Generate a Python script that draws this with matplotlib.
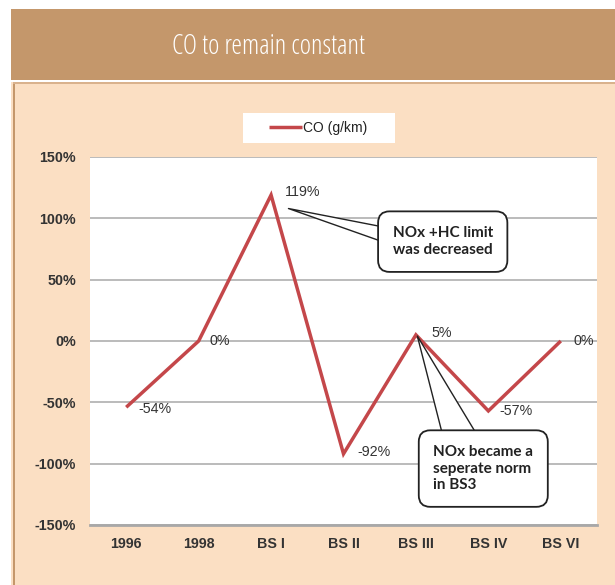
import matplotlib
matplotlib.use("Agg")
import matplotlib.pyplot as plt
from matplotlib.patches import Rectangle

# Data
categories = ["1996", "1998", "BS I", "BS II", "BS III", "BS IV", "BS VI"]
co_change = [-54, 0, 119, -92, 5, -57, 0]
value_labels = ["-54%", "0%", "119%", "-92%", "5%", "-57%", "0%"]
y_ticks = [-150, -100, -50, 0, 50, 100, 150]
y_tick_labels = ["-150%", "-100%", "-50%", "0%", "50%", "100%", "150%"]
title_text = "CO to remain constant"
series_name = "CO (g/km)"
note_1 = "NOx +HC limit\nwas decreased"
note_2 = "NOx became a\nseperate norm\nin BS3"

W, H = 615, 585
fig = plt.figure(figsize=(W / 100, H / 100), dpi=100)
fig.patch.set_facecolor("white")

banner = "#C4976B"
panel = "#FBDFC3"


def fig_rect(x0, y0, x1, y1, color, z=-5):
    """Rectangle given in pixel coordinates measured from the top-left corner."""
    fig.patches.append(Rectangle((x0 / W, 1 - y1 / H), (x1 - x0) / W, (y1 - y0) / H,
                                 transform=fig.transFigure, facecolor=color,
                                 edgecolor="none", zorder=z))


# Header banner and panel background
fig_rect(11, 9, W, 80, banner)
fig_rect(11, 82, W, H, panel)
fig_rect(13, 83, 15, H, banner, z=-4)
fig_rect(13, 82, W, 84, "#D9B28D", z=-4)
fig_rect(243, 113, 395, 143, "white", z=-3)

fig.text(268 / W, 1 - 47 / H, title_text, color="white", fontsize=19.5,
         family="Open Sans", ha="center", va="center", fontstretch="condensed")

ax = fig.add_axes([90 / W, 1 - 525 / H, 507 / W, 368 / H])
ax.set_facecolor("white")
x = list(range(len(categories)))
line, = ax.plot(x, co_change, color="#C4474A", lw=2.5, solid_capstyle="butt",
                solid_joinstyle="miter", zorder=3, label=series_name)

ax.set_xlim(-0.5, len(categories) - 0.5)
ax.set_ylim(-150, 150)
ax.set_yticks(y_ticks)
ax.set_yticklabels(y_tick_labels)
ax.set_xticks(x)
ax.set_xticklabels(categories)
for lab in ax.get_xticklabels() + ax.get_yticklabels():
    lab.set_family("Liberation Sans")
    lab.set_fontweight("bold")
    lab.set_fontsize(10.3)
    lab.set_color("#333333")
ax.tick_params(axis="both", length=0)
ax.tick_params(axis="y", pad=10)
ax.tick_params(axis="x", pad=9)
ax.grid(axis="y", color="#A8A8A8", lw=1.1, zorder=1)
for s in ["top", "right", "left"]:
    ax.spines[s].set_visible(False)
ax.spines["bottom"].set_color("#A8A8A8")
ax.spines["bottom"].set_linewidth(2)

# Value labels beside each point
offsets = [(9, -1), (8, 0), (10, 2), (10, 1), (11, 1), (8, 0), (9, 0)]
for xi, yi, txt, off in zip(x, co_change, value_labels, offsets):
    ax.annotate(txt, (xi, yi), xytext=off, textcoords="offset points",
                ha="left", va="center", fontsize=10.3, family="Liberation Sans",
                color="#333333", zorder=4)

# Speech-bubble callouts
bubble = dict(boxstyle="round,pad=0.95,rounding_size=0.75", fc="white", ec="#222222", lw=1.3)
ax.annotate(note_1, xy=(2.24, 108), xytext=(4.37, 81), textcoords="data",
            ha="center", va="center", multialignment="left", fontsize=11,
            linespacing=1.32, family="Lato", fontweight="bold", color="#222222",
            bbox=bubble,
            arrowprops=dict(arrowstyle="wedge,tail_width=1.1,shrink_factor=0.5",
                            fc="white", ec="#222222", lw=1.0, relpos=(0.06, 0.6),
                            patchA=None, shrinkA=0, shrinkB=0),
            zorder=5)
ax.annotate(note_2, xy=(4.02, 4), xytext=(4.93, -104), textcoords="data",
            ha="center", va="center", multialignment="left", fontsize=11,
            linespacing=1.25, family="Lato", fontweight="bold", color="#222222",
            bbox=bubble,
            arrowprops=dict(arrowstyle="wedge,tail_width=2.4,shrink_factor=0.5",
                            fc="white", ec="#222222", lw=1.0, relpos=(0.32, 0.88),
                            patchA=None, shrinkA=0, shrinkB=0),
            zorder=5)

leg = fig.legend(handles=[line], loc="center", bbox_to_anchor=(318 / W, 1 - 128 / H),
                 frameon=False, handlelength=2.4, handletextpad=0.05,
                 borderpad=0.3, borderaxespad=0,
                 prop={"family": "Liberation Sans", "size": 10})
for t in leg.get_texts():
    t.set_color("#222222")

fig.savefig("out.png", dpi=100)
